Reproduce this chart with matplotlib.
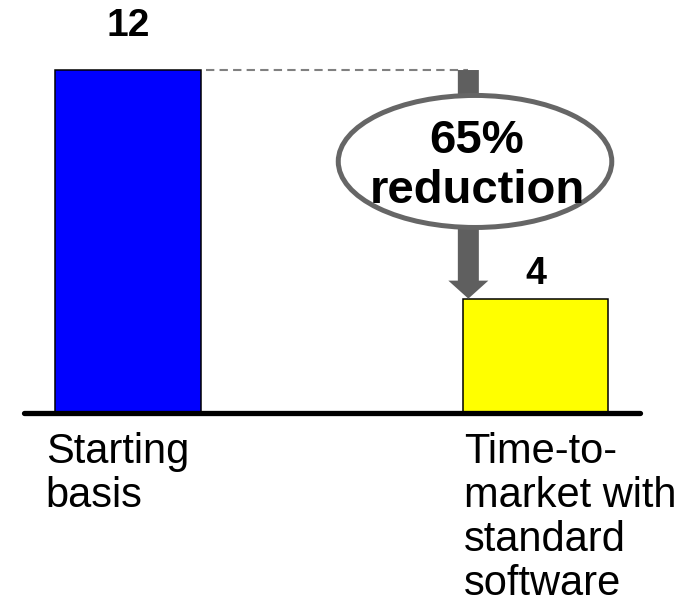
import matplotlib
matplotlib.use("Agg")
import matplotlib.pyplot as plt
from matplotlib.patches import Ellipse, FancyArrow

plt.rcParams['font.family'] = ['Liberation Sans', 'DejaVu Sans']

# Chart data
categories = ["Starting\nbasis", "Time-to-\nmarket with\nstandard\nsoftware"]
values = [12, 4]
bar_colors = ["#0000FF", "#FFFF00"]
reduction_pct = 65

fig = plt.figure(figsize=(6.97, 6.05), dpi=100)
ax = fig.add_axes([0, 0, 1, 1])
ax.set_xlim(-0.3157, 1.3968)
ax.set_ylim(-6.72, 14.45)
ax.axis("off")

x = list(range(len(values)))
bw = 0.3587
ax.bar(x, values, width=bw, color=bar_colors, edgecolor="black",
       linewidth=1.1, zorder=3)

# Baseline
ax.plot([-0.257, 1.257], [0, 0], color="black", lw=3.8,
        solid_capstyle="round", zorder=4)

# Value labels above bars
label_offsets = [19, 4.5]
label_sizes = [28, 27]
for xi, v, off, fs in zip(x, values, label_offsets, label_sizes):
    ax.annotate(f"{v}", (xi, v), xytext=(0, off), textcoords="offset points",
                ha="center", va="bottom", fontsize=fs, fontweight="bold")

# Category labels below the baseline
cat_offsets = [-7, 1]
for xi, lab, off in zip(x, categories, cat_offsets):
    ax.annotate(lab, (xi - bw / 2, 0), xytext=(off, -14),
                textcoords="offset points", ha="left", va="top",
                fontsize=30, linespacing=1.12)

# Dashed guide from the top of the first bar
arrow_x = 0.835
ax.plot([bw / 2 + 0.01, arrow_x], [values[0], values[0]], color="#808080",
        lw=1.5, dashes=(4, 2.5), zorder=2)

# Reduction arrow from the first value down to the second
ax.add_patch(FancyArrow(arrow_x, values[0], 0, values[1] - values[0],
                        width=0.0516, head_width=0.0983, head_length=0.63,
                        length_includes_head=True, color="#5f5f5f",
                        linewidth=0, zorder=5))

# Callout ellipse with the reduction text
ax.add_patch(Ellipse((0.8514, 8.80), 0.672, 4.62, facecolor="white",
                     edgecolor="#666666", linewidth=3.6, zorder=6))
ax.text(0.855, 9.1, f"{reduction_pct}%", ha="center", va="baseline",
        fontsize=34, fontweight="bold", zorder=7)
ax.text(0.858, 7.35, "reduction", ha="center", va="baseline",
        fontsize=34, fontweight="bold", zorder=7)

fig.savefig("out.png", dpi=100)
